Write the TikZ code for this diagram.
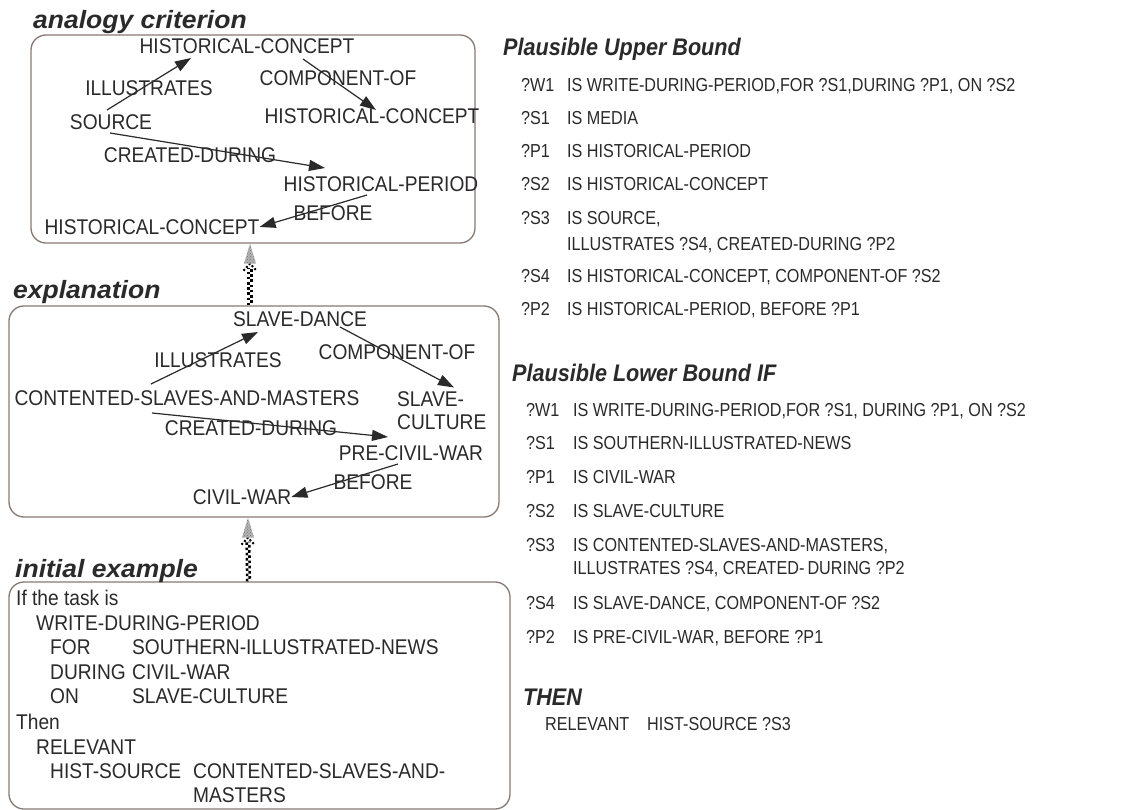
\documentclass[tikz,border=0pt]{standalone}
\usepackage{fontspec}
\setmainfont{Liberation Sans}
\newfontfamily\labfont[FakeStretch=0.9]{Liberation Sans}
\newfontfamily\rulefont[FakeStretch=0.86]{Liberation Sans}
\newfontfamily\headfont[FakeStretch=1.06]{Liberation Sans}
\newfontfamily\subheadfont[FakeStretch=0.9]{Liberation Sans}
\usetikzlibrary{arrows.meta,calc,patterns}
\definecolor{ink}{HTML}{2A2A2A}
\definecolor{frame}{HTML}{857A76}

\tikzset{
  panel/.style={draw=frame, line width=1.3pt, rounded corners=15pt, inner sep=0pt},
  lab/.style={inner sep=0pt, text=ink, font=\labfont\fontsize{21.3}{24}\selectfont},
  ltxt/.style={lab, anchor=base west},
  rtxt/.style={inner sep=0pt, anchor=base west, text=ink, font=\rulefont\fontsize{18.8}{21}\selectfont},
  head/.style={inner sep=0pt, anchor=base west, text=ink, font=\headfont\fontsize{25}{28}\selectfont\bfseries\itshape},
  subhead/.style={inner sep=0pt, anchor=base west, text=ink, font=\subheadfont\fontsize{24}{27}\selectfont\bfseries\itshape},
  rel/.style={draw=ink, line width=1.2pt, -{Triangle[length=16pt,width=11pt]}},
}

% checkered "generalises to" arrow, from a bottom point up to a tip
\newcommand\checkup[2]{%
  \draw[line width=2.6pt, dash pattern=on 2.6pt off 2.6pt]
    ($(#1)+(-1.3,0)$) -- ($(#2)+(-1.3,24)$);
  \draw[line width=2.6pt, dash pattern=on 2.6pt off 2.6pt, dash phase=2.6pt]
    ($(#1)+(1.3,0)$) -- ($(#2)+(1.3,24)$);
  \draw[line width=2pt, dash pattern=on 2pt off 2pt]
    ($(#2)+(-6.5,27)$) -- ($(#2)+(0,20)$) -- ($(#2)+(6.5,27)$);
  \fill[gray!60] (#2) -- ($(#2)+(-6,20)$) -- ($(#2)+(6,20)$) -- cycle;
  \fill[pattern=crosshatch dots, pattern color=gray!95!black] (#2) -- ($(#2)+(-6,20)$) -- ($(#2)+(6,20)$) -- cycle;
}

\begin{document}
\begin{tikzpicture}[x=1pt,y=-1pt]
\useasboundingbox (0,0) rectangle (1133,810);
\fill[white] (0,0) rectangle (1133,810);

% ---------- panels ----------
\node[panel, minimum width=444pt, minimum height=208pt] (box1) at (253,139) {};
\node[panel, minimum width=490pt, minimum height=211pt] (box2) at (254,411.5) {};
\node[panel, minimum width=501pt, minimum height=227pt] (box3) at (259.5,695.5) {};

\node[head] (t1) at (33,28.5) {analogy criterion};
\node[head] (t2) at (13,299) {explanation};
\node[head] (t3) at (15,577) {initial example};

% ---------- analogy criterion ----------
\node[lab] (hcA) at (247,46) {HISTORICAL-CONCEPT};
\node[lab] (src) at (111,122) {SOURCE};
\node[lab] (hcB) at (372,116) {HISTORICAL-CONCEPT};
\node[lab] (hp)  at (381,184) {HISTORICAL-PERIOD};
\node[lab] (hcC) at (152,227) {HISTORICAL-CONCEPT};

\draw[rel] ($(src.center)+(-4,-12)$) -- ($(hcA.center)+(-56,12)$);
\draw[rel] ($(hcA.center)+(56,13)$) -- ($(hcB.center)+(4,-6)$);
\draw[rel] ($(src.center)+(-1,11)$) -- ($(hp.center)+(-56,-16)$);
\draw[rel] ($(hp.center)+(-14,11)$) -- (hcC.east);

\node[lab] (e1) at (149,88) {ILLUSTRATES};
\node[lab] (e2) at (338,78) {COMPONENT-OF};
\node[lab] (e3) at (190,155) {CREATED-DURING};
\node[lab] (e4) at (333,213) {BEFORE};

% ---------- explanation ----------
\node[lab] (sd)  at (300,319) {SLAVE-DANCE};
\node[lab] (csm) at (187,398) {CONTENTED-SLAVES-AND-MASTERS};
\node[lab, anchor=north west, align=left] (sc) at (397,391.5)
  {SLAVE-\\[-1.3pt]CULTURE};
\node[lab] (pcw) at (411,453) {PRE-CIVIL-WAR};
\node[lab] (cw)  at (242,497) {CIVIL-WAR};

\draw[rel] ($(csm.center)+(-36,-14)$) -- ($(sd.center)+(-42,13)$);
\draw[rel] ($(sd.center)+(40,8)$) -- ($(sc.north west)+(57,-4)$);
\draw[rel] ($(csm.center)+(-35,15)$) -- ($(pcw.center)+(-23,-16)$);
\draw[rel] ($(pcw.center)+(-13,11)$) -- (cw.east);

\node[lab] (f1) at (218,360) {ILLUSTRATES};
\node[lab] (f2) at (397,352) {COMPONENT-OF};
\node[lab] (f3) at (251,428) {CREATED-DURING};
\node[lab] (f4) at (373,482) {BEFORE};

% ---------- generalisation arrows ----------
\coordinate (up1tip) at ($(box1.south)+(-3,0)$);
\coordinate (up1bot) at ($(box2.north)+(-4,0)$);
\coordinate (up2tip) at ($(box2.south)+(-6,0)$);
\coordinate (up2bot) at ($(box3.north)+(-11,0)$);
\checkup{up1bot}{up1tip}
\checkup{up2bot}{up2tip}

% ---------- initial example ----------
\node[ltxt] (i1) at (16,605.5) {If the task is};
\node[ltxt] (i2) at (36,630) {WRITE-DURING-PERIOD};
\node[ltxt] (i3a) at (50,654.5) {FOR};
\node[ltxt] (i3b) at (132,654.5) {SOUTHERN-ILLUSTRATED-NEWS};
\node[ltxt] (i4a) at (50,679) {DURING};
\node[ltxt] (i4b) at (132,679) {CIVIL-WAR};
\node[ltxt] (i5a) at (50,703.5) {ON};
\node[ltxt] (i5b) at (132,703.5) {SLAVE-CULTURE};
\node[ltxt] (i6) at (16,729.5) {Then};
\node[ltxt] (i7) at (36,754.5) {RELEVANT};
\node[ltxt] (i8a) at (50,778.5) {HIST-SOURCE};
\node[ltxt] (i8b) at (193,778.5) {CONTENTED-SLAVES-AND-};
\node[ltxt] (i9) at (193,802.5) {MASTERS};

% ---------- plausible upper bound ----------
\node[subhead] (ub) at (503,55.5) {Plausible Upper Bound};
\node[rtxt] (u1a) at (521,91.6) {?W1};
\node[rtxt] (u1b) at (567,91.6) {IS WRITE-DURING-PERIOD,FOR ?S1,DURING ?P1, ON ?S2};
\node[rtxt] (u2a) at (521,124.6) {?S1};
\node[rtxt] (u2b) at (567,124.6) {IS MEDIA};
\node[rtxt] (u3a) at (521,157.6) {?P1};
\node[rtxt] (u3b) at (567,157.6) {IS HISTORICAL-PERIOD};
\node[rtxt] (u4a) at (521,190.6) {?S2};
\node[rtxt] (u4b) at (567,190.6) {IS HISTORICAL-CONCEPT};
\node[rtxt] (u5a) at (521,224.6) {?S3};
\node[rtxt] (u5b) at (567,224.6) {IS SOURCE,};
\node[rtxt] (u5c) at (567,250.6) {ILLUSTRATES ?S4, CREATED-DURING ?P2};
\node[rtxt] (u6a) at (521,282.6) {?S4};
\node[rtxt] (u6b) at (567,282.6) {IS HISTORICAL-CONCEPT, COMPONENT-OF ?S2};
\node[rtxt] (u7a) at (521,315.6) {?P2};
\node[rtxt] (u7b) at (567,315.6) {IS HISTORICAL-PERIOD, BEFORE ?P1};

% ---------- plausible lower bound ----------
\node[subhead] (lb) at (512,381.5) {Plausible Lower Bound IF};
\node[rtxt] (l1a) at (526,416.6) {?W1};
\node[rtxt] (l1b) at (573,416.6) {IS WRITE-DURING-PERIOD,FOR ?S1, DURING ?P1, ON ?S2};
\node[rtxt] (l2a) at (526,449.6) {?S1};
\node[rtxt] (l2b) at (573,449.6) {IS SOUTHERN-ILLUSTRATED-NEWS};
\node[rtxt] (l3a) at (526,483.6) {?P1};
\node[rtxt] (l3b) at (573,483.6) {IS CIVIL-WAR};
\node[rtxt] (l4a) at (526,517.6) {?S2};
\node[rtxt] (l4b) at (573,517.6) {IS SLAVE-CULTURE};
\node[rtxt] (l5a) at (526,551.6) {?S3};
\node[rtxt] (l5b) at (573,551.6) {IS CONTENTED-SLAVES-AND-MASTERS,};
\node[rtxt] (l5c) at (573,574.6) {ILLUSTRATES ?S4, CREATED-\,DURING ?P2};
\node[rtxt] (l6a) at (526,609.6) {?S4};
\node[rtxt] (l6b) at (573,609.6) {IS SLAVE-DANCE, COMPONENT-OF ?S2};
\node[rtxt] (l7a) at (526,643.6) {?P2};
\node[rtxt] (l7b) at (573,643.6) {IS PRE-CIVIL-WAR, BEFORE ?P1};

% ---------- conclusion ----------
\node[subhead] (th) at (523,705) {THEN};
\node[rtxt] (c1a) at (545,730) {RELEVANT};
\node[rtxt] (c1b) at (647,730) {HIST-SOURCE ?S3};
\end{tikzpicture}
\end{document}
